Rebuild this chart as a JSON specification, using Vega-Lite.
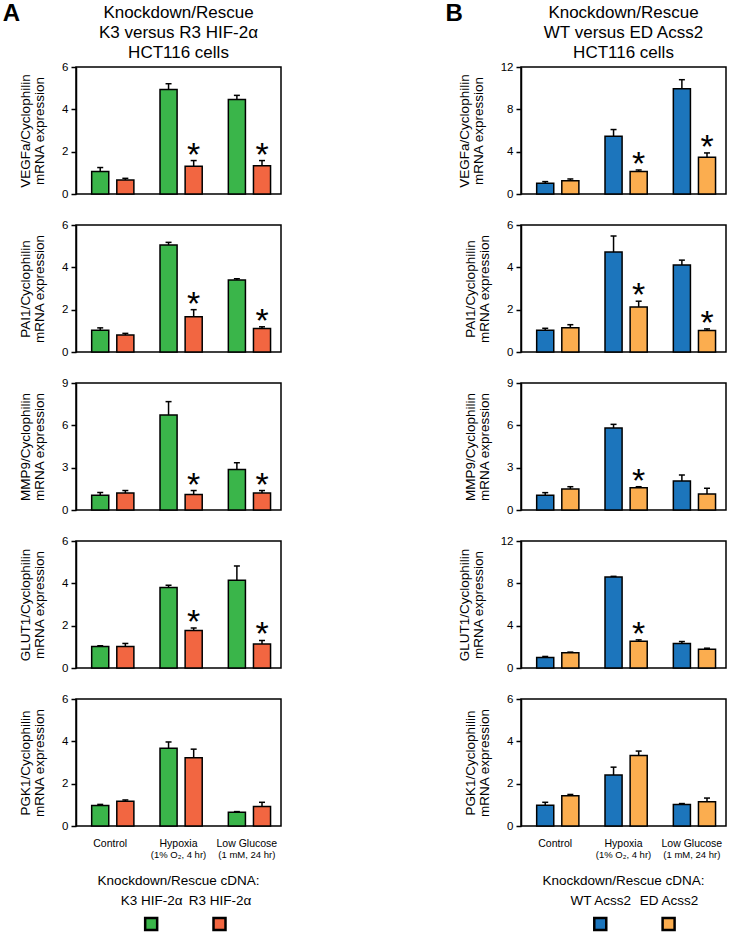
{
"$schema":"https://vega.github.io/schema/vega-lite/v6.json",
"padding":{"left":2,"top":2,"right":0,"bottom":0},
"data":{"values":[
{"col":"A","gene":"VEGFa","cond":"Control","cdna":"K3 HIF-2α","v":1.06,"e":1.25,"sig":false},
{"col":"A","gene":"VEGFa","cond":"Control","cdna":"R3 HIF-2α","v":0.66,"e":0.74,"sig":false},
{"col":"A","gene":"VEGFa","cond":"Hypoxia","cdna":"K3 HIF-2α","v":4.94,"e":5.21,"sig":false},
{"col":"A","gene":"VEGFa","cond":"Hypoxia","cdna":"R3 HIF-2α","v":1.31,"e":1.58,"sig":true},
{"col":"A","gene":"VEGFa","cond":"Low Glucose","cdna":"K3 HIF-2α","v":4.47,"e":4.66,"sig":false},
{"col":"A","gene":"VEGFa","cond":"Low Glucose","cdna":"R3 HIF-2α","v":1.34,"e":1.58,"sig":true},
{"col":"A","gene":"PAI1","cond":"Control","cdna":"K3 HIF-2α","v":1.03,"e":1.14,"sig":false},
{"col":"A","gene":"PAI1","cond":"Control","cdna":"R3 HIF-2α","v":0.80,"e":0.88,"sig":false},
{"col":"A","gene":"PAI1","cond":"Hypoxia","cdna":"K3 HIF-2α","v":5.06,"e":5.18,"sig":false},
{"col":"A","gene":"PAI1","cond":"Hypoxia","cdna":"R3 HIF-2α","v":1.66,"e":2.00,"sig":true},
{"col":"A","gene":"PAI1","cond":"Low Glucose","cdna":"K3 HIF-2α","v":3.40,"e":3.46,"sig":false},
{"col":"A","gene":"PAI1","cond":"Low Glucose","cdna":"R3 HIF-2α","v":1.11,"e":1.19,"sig":true},
{"col":"A","gene":"MMP9","cond":"Control","cdna":"K3 HIF-2α","v":1.05,"e":1.24,"sig":false},
{"col":"A","gene":"MMP9","cond":"Control","cdna":"R3 HIF-2α","v":1.20,"e":1.38,"sig":false},
{"col":"A","gene":"MMP9","cond":"Hypoxia","cdna":"K3 HIF-2α","v":6.74,"e":7.68,"sig":false},
{"col":"A","gene":"MMP9","cond":"Hypoxia","cdna":"R3 HIF-2α","v":1.10,"e":1.38,"sig":true},
{"col":"A","gene":"MMP9","cond":"Low Glucose","cdna":"K3 HIF-2α","v":2.87,"e":3.35,"sig":false},
{"col":"A","gene":"MMP9","cond":"Low Glucose","cdna":"R3 HIF-2α","v":1.20,"e":1.38,"sig":true},
{"col":"A","gene":"GLUT1","cond":"Control","cdna":"K3 HIF-2α","v":1.02,"e":1.05,"sig":false},
{"col":"A","gene":"GLUT1","cond":"Control","cdna":"R3 HIF-2α","v":1.02,"e":1.16,"sig":false},
{"col":"A","gene":"GLUT1","cond":"Hypoxia","cdna":"K3 HIF-2α","v":3.80,"e":3.91,"sig":false},
{"col":"A","gene":"GLUT1","cond":"Hypoxia","cdna":"R3 HIF-2α","v":1.77,"e":1.89,"sig":true},
{"col":"A","gene":"GLUT1","cond":"Low Glucose","cdna":"K3 HIF-2α","v":4.14,"e":4.82,"sig":false},
{"col":"A","gene":"GLUT1","cond":"Low Glucose","cdna":"R3 HIF-2α","v":1.13,"e":1.30,"sig":true},
{"col":"A","gene":"PGK1","cond":"Control","cdna":"K3 HIF-2α","v":0.97,"e":1.02,"sig":false},
{"col":"A","gene":"PGK1","cond":"Control","cdna":"R3 HIF-2α","v":1.17,"e":1.23,"sig":false},
{"col":"A","gene":"PGK1","cond":"Hypoxia","cdna":"K3 HIF-2α","v":3.67,"e":3.97,"sig":false},
{"col":"A","gene":"PGK1","cond":"Hypoxia","cdna":"R3 HIF-2α","v":3.22,"e":3.63,"sig":false},
{"col":"A","gene":"PGK1","cond":"Low Glucose","cdna":"K3 HIF-2α","v":0.65,"e":0.68,"sig":false},
{"col":"A","gene":"PGK1","cond":"Low Glucose","cdna":"R3 HIF-2α","v":0.92,"e":1.12,"sig":false},
{"col":"B","gene":"VEGFa","cond":"Control","cdna":"WT Acss2","v":1.01,"e":1.17,"sig":false},
{"col":"B","gene":"VEGFa","cond":"Control","cdna":"ED Acss2","v":1.26,"e":1.42,"sig":false},
{"col":"B","gene":"VEGFa","cond":"Hypoxia","cdna":"WT Acss2","v":5.46,"e":6.09,"sig":false},
{"col":"B","gene":"VEGFa","cond":"Hypoxia","cdna":"ED Acss2","v":2.12,"e":2.27,"sig":true},
{"col":"B","gene":"VEGFa","cond":"Low Glucose","cdna":"WT Acss2","v":9.95,"e":10.8,"sig":false},
{"col":"B","gene":"VEGFa","cond":"Low Glucose","cdna":"ED Acss2","v":3.47,"e":3.88,"sig":true},
{"col":"B","gene":"PAI1","cond":"Control","cdna":"WT Acss2","v":1.03,"e":1.12,"sig":false},
{"col":"B","gene":"PAI1","cond":"Control","cdna":"ED Acss2","v":1.15,"e":1.29,"sig":false},
{"col":"B","gene":"PAI1","cond":"Hypoxia","cdna":"WT Acss2","v":4.72,"e":5.48,"sig":false},
{"col":"B","gene":"PAI1","cond":"Hypoxia","cdna":"ED Acss2","v":2.13,"e":2.40,"sig":true},
{"col":"B","gene":"PAI1","cond":"Low Glucose","cdna":"WT Acss2","v":4.11,"e":4.34,"sig":false},
{"col":"B","gene":"PAI1","cond":"Low Glucose","cdna":"ED Acss2","v":1.01,"e":1.09,"sig":true},
{"col":"B","gene":"MMP9","cond":"Control","cdna":"WT Acss2","v":1.04,"e":1.23,"sig":false},
{"col":"B","gene":"MMP9","cond":"Control","cdna":"ED Acss2","v":1.49,"e":1.65,"sig":false},
{"col":"B","gene":"MMP9","cond":"Hypoxia","cdna":"WT Acss2","v":5.81,"e":6.07,"sig":false},
{"col":"B","gene":"MMP9","cond":"Hypoxia","cdna":"ED Acss2","v":1.58,"e":1.65,"sig":true},
{"col":"B","gene":"MMP9","cond":"Low Glucose","cdna":"WT Acss2","v":2.06,"e":2.48,"sig":false},
{"col":"B","gene":"MMP9","cond":"Low Glucose","cdna":"ED Acss2","v":1.13,"e":1.54,"sig":false},
{"col":"B","gene":"GLUT1","cond":"Control","cdna":"WT Acss2","v":1.00,"e":1.09,"sig":false},
{"col":"B","gene":"GLUT1","cond":"Control","cdna":"ED Acss2","v":1.44,"e":1.50,"sig":false},
{"col":"B","gene":"GLUT1","cond":"Hypoxia","cdna":"WT Acss2","v":8.60,"e":8.66,"sig":false},
{"col":"B","gene":"GLUT1","cond":"Hypoxia","cdna":"ED Acss2","v":2.53,"e":2.66,"sig":true},
{"col":"B","gene":"GLUT1","cond":"Low Glucose","cdna":"WT Acss2","v":2.31,"e":2.50,"sig":false},
{"col":"B","gene":"GLUT1","cond":"Low Glucose","cdna":"ED Acss2","v":1.78,"e":1.87,"sig":false},
{"col":"B","gene":"PGK1","cond":"Control","cdna":"WT Acss2","v":0.98,"e":1.12,"sig":false},
{"col":"B","gene":"PGK1","cond":"Control","cdna":"ED Acss2","v":1.43,"e":1.49,"sig":false},
{"col":"B","gene":"PGK1","cond":"Hypoxia","cdna":"WT Acss2","v":2.41,"e":2.78,"sig":false},
{"col":"B","gene":"PGK1","cond":"Hypoxia","cdna":"ED Acss2","v":3.33,"e":3.54,"sig":false},
{"col":"B","gene":"PGK1","cond":"Low Glucose","cdna":"WT Acss2","v":1.02,"e":1.06,"sig":false},
{"col":"B","gene":"PGK1","cond":"Low Glucose","cdna":"ED Acss2","v":1.15,"e":1.32,"sig":false}
]},
"spacing":163,
"resolve":{"scale":{"xOffset":"independent"}},
"hconcat":[
{
"title":{"text":"A","anchor":"start","frame":"bounds","fontSize":24,"fontWeight":"bold","offset":-23,"dx":-15},
"spacing":13,
"resolve":{"scale":{"xOffset":"independent"}},
"vconcat":[
{"spacing":31,"bounds":"flush","resolve":{"scale":{"xOffset":"independent"}},
"vconcat":[
{"width":205,"height":127,
"title":{"text":["Knockdown/Rescue","K3 versus R3 HIF-2α","HCT116 cells"],"fontSize":17,"lineHeight":20,"anchor":"middle","frame":"group","offset":-1},
"transform":[{"filter":"datum.col === 'A' && datum.gene === 'VEGFa'"}],
"encoding":{
"x":{"field":"cond","type":"nominal","sort":["Control","Hypoxia","Low Glucose"],"scale":{"paddingInner":0,"paddingOuter":0},"axis":null},
"xOffset":{"field":"cdna","type":"nominal","sort":["K3 HIF-2α","R3 HIF-2α"],"scale":{"paddingInner":0.32,"paddingOuter":0.52,"align":0.6}},
"y":{"field":"v","type":"quantitative","scale":{"domain":[0,6],"nice":false},"axis":{"values":[0,2,4,6],"title":["VEGFa/Cyclophilin","mRNA expression"]}}},
"layer":[
{"mark":{"type":"bar","stroke":"black","strokeWidth":1.5},"encoding":{"color":{"field":"cdna","type":"nominal","scale":{"domain":["K3 HIF-2α","R3 HIF-2α","WT Acss2","ED Acss2"],"range":["#3ab54a","#f26641","#1c75bc","#fbad4f"]},"legend":null}}},
{"mark":{"type":"rule","color":"black","strokeWidth":1.5},"encoding":{"y2":{"field":"e"}}},
{"mark":{"type":"tick","orient":"horizontal","color":"black","size":6,"thickness":1.5,"opacity":1},"encoding":{"y":{"field":"e","type":"quantitative","scale":{"domain":[0,6],"nice":false}}}},
{"transform":[{"filter":"datum.sig"}],"mark":{"type":"text","text":"*","fontSize":34,"baseline":"alphabetic","dy":5,"color":"black"},"encoding":{"y":{"field":"e","type":"quantitative","scale":{"domain":[0,6],"nice":false}}}}
]},
{"width":205,"height":127,
"transform":[{"filter":"datum.col === 'A' && datum.gene === 'PAI1'"}],
"encoding":{
"x":{"field":"cond","type":"nominal","sort":["Control","Hypoxia","Low Glucose"],"scale":{"paddingInner":0,"paddingOuter":0},"axis":null},
"xOffset":{"field":"cdna","type":"nominal","sort":["K3 HIF-2α","R3 HIF-2α"],"scale":{"paddingInner":0.32,"paddingOuter":0.52,"align":0.6}},
"y":{"field":"v","type":"quantitative","scale":{"domain":[0,6],"nice":false},"axis":{"values":[0,2,4,6],"title":["PAI1/Cyclophilin","mRNA expression"]}}},
"layer":[
{"mark":{"type":"bar","stroke":"black","strokeWidth":1.5},"encoding":{"color":{"field":"cdna","type":"nominal","scale":{"domain":["K3 HIF-2α","R3 HIF-2α","WT Acss2","ED Acss2"],"range":["#3ab54a","#f26641","#1c75bc","#fbad4f"]},"legend":null}}},
{"mark":{"type":"rule","color":"black","strokeWidth":1.5},"encoding":{"y2":{"field":"e"}}},
{"mark":{"type":"tick","orient":"horizontal","color":"black","size":6,"thickness":1.5,"opacity":1},"encoding":{"y":{"field":"e","type":"quantitative","scale":{"domain":[0,6],"nice":false}}}},
{"transform":[{"filter":"datum.sig"}],"mark":{"type":"text","text":"*","fontSize":34,"baseline":"alphabetic","dy":5,"color":"black"},"encoding":{"y":{"field":"e","type":"quantitative","scale":{"domain":[0,6],"nice":false}}}}
]},
{"width":205,"height":127,
"transform":[{"filter":"datum.col === 'A' && datum.gene === 'MMP9'"}],
"encoding":{
"x":{"field":"cond","type":"nominal","sort":["Control","Hypoxia","Low Glucose"],"scale":{"paddingInner":0,"paddingOuter":0},"axis":null},
"xOffset":{"field":"cdna","type":"nominal","sort":["K3 HIF-2α","R3 HIF-2α"],"scale":{"paddingInner":0.32,"paddingOuter":0.52,"align":0.6}},
"y":{"field":"v","type":"quantitative","scale":{"domain":[0,9],"nice":false},"axis":{"values":[0,3,6,9],"title":["MMP9/Cyclophilin","mRNA expression"]}}},
"layer":[
{"mark":{"type":"bar","stroke":"black","strokeWidth":1.5},"encoding":{"color":{"field":"cdna","type":"nominal","scale":{"domain":["K3 HIF-2α","R3 HIF-2α","WT Acss2","ED Acss2"],"range":["#3ab54a","#f26641","#1c75bc","#fbad4f"]},"legend":null}}},
{"mark":{"type":"rule","color":"black","strokeWidth":1.5},"encoding":{"y2":{"field":"e"}}},
{"mark":{"type":"tick","orient":"horizontal","color":"black","size":6,"thickness":1.5,"opacity":1},"encoding":{"y":{"field":"e","type":"quantitative","scale":{"domain":[0,9],"nice":false}}}},
{"transform":[{"filter":"datum.sig"}],"mark":{"type":"text","text":"*","fontSize":34,"baseline":"alphabetic","dy":5,"color":"black"},"encoding":{"y":{"field":"e","type":"quantitative","scale":{"domain":[0,9],"nice":false}}}}
]},
{"width":205,"height":127,
"transform":[{"filter":"datum.col === 'A' && datum.gene === 'GLUT1'"}],
"encoding":{
"x":{"field":"cond","type":"nominal","sort":["Control","Hypoxia","Low Glucose"],"scale":{"paddingInner":0,"paddingOuter":0},"axis":null},
"xOffset":{"field":"cdna","type":"nominal","sort":["K3 HIF-2α","R3 HIF-2α"],"scale":{"paddingInner":0.32,"paddingOuter":0.52,"align":0.6}},
"y":{"field":"v","type":"quantitative","scale":{"domain":[0,6],"nice":false},"axis":{"values":[0,2,4,6],"title":["GLUT1/Cyclophilin","mRNA expression"]}}},
"layer":[
{"mark":{"type":"bar","stroke":"black","strokeWidth":1.5},"encoding":{"color":{"field":"cdna","type":"nominal","scale":{"domain":["K3 HIF-2α","R3 HIF-2α","WT Acss2","ED Acss2"],"range":["#3ab54a","#f26641","#1c75bc","#fbad4f"]},"legend":null}}},
{"mark":{"type":"rule","color":"black","strokeWidth":1.5},"encoding":{"y2":{"field":"e"}}},
{"mark":{"type":"tick","orient":"horizontal","color":"black","size":6,"thickness":1.5,"opacity":1},"encoding":{"y":{"field":"e","type":"quantitative","scale":{"domain":[0,6],"nice":false}}}},
{"transform":[{"filter":"datum.sig"}],"mark":{"type":"text","text":"*","fontSize":34,"baseline":"alphabetic","dy":5,"color":"black"},"encoding":{"y":{"field":"e","type":"quantitative","scale":{"domain":[0,6],"nice":false}}}}
]},
{"width":205,"height":127,
"resolve":{"axis":{"x":"independent"}},
"transform":[{"filter":"datum.col === 'A' && datum.gene === 'PGK1'"}],
"encoding":{
"x":{"field":"cond","type":"nominal","sort":["Control","Hypoxia","Low Glucose"],"scale":{"paddingInner":0,"paddingOuter":0},"axis":null},
"xOffset":{"field":"cdna","type":"nominal","sort":["K3 HIF-2α","R3 HIF-2α"],"scale":{"paddingInner":0.32,"paddingOuter":0.52,"align":0.6}},
"y":{"field":"v","type":"quantitative","scale":{"domain":[0,6],"nice":false},"axis":{"values":[0,2,4,6],"title":["PGK1/Cyclophilin","mRNA expression"]}}},
"layer":[
{"mark":{"type":"bar","stroke":"black","strokeWidth":1.5},"encoding":{
"x":{"field":"cond","type":"nominal","sort":["Control","Hypoxia","Low Glucose"],"scale":{"paddingInner":0,"paddingOuter":0},"axis":{"orient":"bottom","title":null,"labelAngle":0,"domain":false,"ticks":false,"labelPadding":12.5,"labelFontSize":10.5}},
"color":{"field":"cdna","type":"nominal","scale":{"domain":["K3 HIF-2α","R3 HIF-2α","WT Acss2","ED Acss2"],"range":["#3ab54a","#f26641","#1c75bc","#fbad4f"]},"legend":null}}},
{"mark":{"type":"rule","color":"black","strokeWidth":1.5},"encoding":{"y2":{"field":"e"}}},
{"mark":{"type":"tick","orient":"horizontal","color":"black","size":6,"thickness":1.5,"opacity":1},"encoding":{
"x":{"field":"cond","type":"nominal","sort":["Control","Hypoxia","Low Glucose"],"scale":{"paddingInner":0,"paddingOuter":0},"axis":{"orient":"bottom","title":null,"labelAngle":0,"domain":false,"ticks":false,"labelPadding":23,"labelFontSize":9.5,"labelExpr":"datum.value === 'Hypoxia' ? '(1% O₂, 4 hr)' : (datum.value === 'Low Glucose' ? '(1 mM, 24 hr)' : '')"}},
"y":{"field":"e","type":"quantitative","scale":{"domain":[0,6],"nice":false}}}}
]}
]},
{"width":205,"height":16,
"view":{"stroke":null},
"data":{"values":[{"cdna":"K3 HIF-2α"},{"cdna":"R3 HIF-2α"}]},
"title":{"text":"Knockdown/Rescue cDNA:","fontSize":13.5,"anchor":"middle","frame":"group","offset":6},
"mark":{"type":"point","shape":"square","filled":true,"size":144,"stroke":"black","strokeWidth":2.5,"opacity":1},
"encoding":{
"x":{"field":"cdna","type":"nominal","sort":["K3 HIF-2α","R3 HIF-2α"],"scale":{"padding":1,"align":0.55},"axis":{"orient":"top","title":null,"domain":false,"ticks":false,"labelAngle":0,"labelPadding":9,"labelFontSize":13.5}},
"color":{"field":"cdna","type":"nominal","scale":{"domain":["K3 HIF-2α","R3 HIF-2α","WT Acss2","ED Acss2"],"range":["#3ab54a","#f26641","#1c75bc","#fbad4f"]},"legend":null}}}
]},
{
"title":{"text":"B","anchor":"start","frame":"bounds","fontSize":24,"fontWeight":"bold","offset":-23,"dx":-11},
"spacing":13,
"resolve":{"scale":{"xOffset":"independent"}},
"vconcat":[
{"spacing":31,"bounds":"flush","resolve":{"scale":{"xOffset":"independent"}},
"vconcat":[
{"width":205,"height":127,
"title":{"text":["Knockdown/Rescue","WT versus ED Acss2","HCT116 cells"],"fontSize":17,"lineHeight":20,"anchor":"middle","frame":"group","offset":-1},
"transform":[{"filter":"datum.col === 'B' && datum.gene === 'VEGFa'"}],
"encoding":{
"x":{"field":"cond","type":"nominal","sort":["Control","Hypoxia","Low Glucose"],"scale":{"paddingInner":0,"paddingOuter":0},"axis":null},
"xOffset":{"field":"cdna","type":"nominal","sort":["WT Acss2","ED Acss2"],"scale":{"paddingInner":0.32,"paddingOuter":0.52,"align":0.6}},
"y":{"field":"v","type":"quantitative","scale":{"domain":[0,12],"nice":false},"axis":{"values":[0,4,8,12],"title":["VEGFa/Cyclophilin","mRNA expression"]}}},
"layer":[
{"mark":{"type":"bar","stroke":"black","strokeWidth":1.5},"encoding":{"color":{"field":"cdna","type":"nominal","scale":{"domain":["K3 HIF-2α","R3 HIF-2α","WT Acss2","ED Acss2"],"range":["#3ab54a","#f26641","#1c75bc","#fbad4f"]},"legend":null}}},
{"mark":{"type":"rule","color":"black","strokeWidth":1.5},"encoding":{"y2":{"field":"e"}}},
{"mark":{"type":"tick","orient":"horizontal","color":"black","size":6,"thickness":1.5,"opacity":1},"encoding":{"y":{"field":"e","type":"quantitative","scale":{"domain":[0,12],"nice":false}}}},
{"transform":[{"filter":"datum.sig"}],"mark":{"type":"text","text":"*","fontSize":34,"baseline":"alphabetic","dy":5,"color":"black"},"encoding":{"y":{"field":"e","type":"quantitative","scale":{"domain":[0,12],"nice":false}}}}
]},
{"width":205,"height":127,
"transform":[{"filter":"datum.col === 'B' && datum.gene === 'PAI1'"}],
"encoding":{
"x":{"field":"cond","type":"nominal","sort":["Control","Hypoxia","Low Glucose"],"scale":{"paddingInner":0,"paddingOuter":0},"axis":null},
"xOffset":{"field":"cdna","type":"nominal","sort":["WT Acss2","ED Acss2"],"scale":{"paddingInner":0.32,"paddingOuter":0.52,"align":0.6}},
"y":{"field":"v","type":"quantitative","scale":{"domain":[0,6],"nice":false},"axis":{"values":[0,2,4,6],"title":["PAI1/Cyclophilin","mRNA expression"]}}},
"layer":[
{"mark":{"type":"bar","stroke":"black","strokeWidth":1.5},"encoding":{"color":{"field":"cdna","type":"nominal","scale":{"domain":["K3 HIF-2α","R3 HIF-2α","WT Acss2","ED Acss2"],"range":["#3ab54a","#f26641","#1c75bc","#fbad4f"]},"legend":null}}},
{"mark":{"type":"rule","color":"black","strokeWidth":1.5},"encoding":{"y2":{"field":"e"}}},
{"mark":{"type":"tick","orient":"horizontal","color":"black","size":6,"thickness":1.5,"opacity":1},"encoding":{"y":{"field":"e","type":"quantitative","scale":{"domain":[0,6],"nice":false}}}},
{"transform":[{"filter":"datum.sig"}],"mark":{"type":"text","text":"*","fontSize":34,"baseline":"alphabetic","dy":5,"color":"black"},"encoding":{"y":{"field":"e","type":"quantitative","scale":{"domain":[0,6],"nice":false}}}}
]},
{"width":205,"height":127,
"transform":[{"filter":"datum.col === 'B' && datum.gene === 'MMP9'"}],
"encoding":{
"x":{"field":"cond","type":"nominal","sort":["Control","Hypoxia","Low Glucose"],"scale":{"paddingInner":0,"paddingOuter":0},"axis":null},
"xOffset":{"field":"cdna","type":"nominal","sort":["WT Acss2","ED Acss2"],"scale":{"paddingInner":0.32,"paddingOuter":0.52,"align":0.6}},
"y":{"field":"v","type":"quantitative","scale":{"domain":[0,9],"nice":false},"axis":{"values":[0,3,6,9],"title":["MMP9/Cyclophilin","mRNA expression"]}}},
"layer":[
{"mark":{"type":"bar","stroke":"black","strokeWidth":1.5},"encoding":{"color":{"field":"cdna","type":"nominal","scale":{"domain":["K3 HIF-2α","R3 HIF-2α","WT Acss2","ED Acss2"],"range":["#3ab54a","#f26641","#1c75bc","#fbad4f"]},"legend":null}}},
{"mark":{"type":"rule","color":"black","strokeWidth":1.5},"encoding":{"y2":{"field":"e"}}},
{"mark":{"type":"tick","orient":"horizontal","color":"black","size":6,"thickness":1.5,"opacity":1},"encoding":{"y":{"field":"e","type":"quantitative","scale":{"domain":[0,9],"nice":false}}}},
{"transform":[{"filter":"datum.sig"}],"mark":{"type":"text","text":"*","fontSize":34,"baseline":"alphabetic","dy":5,"color":"black"},"encoding":{"y":{"field":"e","type":"quantitative","scale":{"domain":[0,9],"nice":false}}}}
]},
{"width":205,"height":127,
"transform":[{"filter":"datum.col === 'B' && datum.gene === 'GLUT1'"}],
"encoding":{
"x":{"field":"cond","type":"nominal","sort":["Control","Hypoxia","Low Glucose"],"scale":{"paddingInner":0,"paddingOuter":0},"axis":null},
"xOffset":{"field":"cdna","type":"nominal","sort":["WT Acss2","ED Acss2"],"scale":{"paddingInner":0.32,"paddingOuter":0.52,"align":0.6}},
"y":{"field":"v","type":"quantitative","scale":{"domain":[0,12],"nice":false},"axis":{"values":[0,4,8,12],"title":["GLUT1/Cyclophilin","mRNA expression"]}}},
"layer":[
{"mark":{"type":"bar","stroke":"black","strokeWidth":1.5},"encoding":{"color":{"field":"cdna","type":"nominal","scale":{"domain":["K3 HIF-2α","R3 HIF-2α","WT Acss2","ED Acss2"],"range":["#3ab54a","#f26641","#1c75bc","#fbad4f"]},"legend":null}}},
{"mark":{"type":"rule","color":"black","strokeWidth":1.5},"encoding":{"y2":{"field":"e"}}},
{"mark":{"type":"tick","orient":"horizontal","color":"black","size":6,"thickness":1.5,"opacity":1},"encoding":{"y":{"field":"e","type":"quantitative","scale":{"domain":[0,12],"nice":false}}}},
{"transform":[{"filter":"datum.sig"}],"mark":{"type":"text","text":"*","fontSize":34,"baseline":"alphabetic","dy":5,"color":"black"},"encoding":{"y":{"field":"e","type":"quantitative","scale":{"domain":[0,12],"nice":false}}}}
]},
{"width":205,"height":127,
"resolve":{"axis":{"x":"independent"}},
"transform":[{"filter":"datum.col === 'B' && datum.gene === 'PGK1'"}],
"encoding":{
"x":{"field":"cond","type":"nominal","sort":["Control","Hypoxia","Low Glucose"],"scale":{"paddingInner":0,"paddingOuter":0},"axis":null},
"xOffset":{"field":"cdna","type":"nominal","sort":["WT Acss2","ED Acss2"],"scale":{"paddingInner":0.32,"paddingOuter":0.52,"align":0.6}},
"y":{"field":"v","type":"quantitative","scale":{"domain":[0,6],"nice":false},"axis":{"values":[0,2,4,6],"title":["PGK1/Cyclophilin","mRNA expression"]}}},
"layer":[
{"mark":{"type":"bar","stroke":"black","strokeWidth":1.5},"encoding":{
"x":{"field":"cond","type":"nominal","sort":["Control","Hypoxia","Low Glucose"],"scale":{"paddingInner":0,"paddingOuter":0},"axis":{"orient":"bottom","title":null,"labelAngle":0,"domain":false,"ticks":false,"labelPadding":12.5,"labelFontSize":10.5}},
"color":{"field":"cdna","type":"nominal","scale":{"domain":["K3 HIF-2α","R3 HIF-2α","WT Acss2","ED Acss2"],"range":["#3ab54a","#f26641","#1c75bc","#fbad4f"]},"legend":null}}},
{"mark":{"type":"rule","color":"black","strokeWidth":1.5},"encoding":{"y2":{"field":"e"}}},
{"mark":{"type":"tick","orient":"horizontal","color":"black","size":6,"thickness":1.5,"opacity":1},"encoding":{
"x":{"field":"cond","type":"nominal","sort":["Control","Hypoxia","Low Glucose"],"scale":{"paddingInner":0,"paddingOuter":0},"axis":{"orient":"bottom","title":null,"labelAngle":0,"domain":false,"ticks":false,"labelPadding":23,"labelFontSize":9.5,"labelExpr":"datum.value === 'Hypoxia' ? '(1% O₂, 4 hr)' : (datum.value === 'Low Glucose' ? '(1 mM, 24 hr)' : '')"}},
"y":{"field":"e","type":"quantitative","scale":{"domain":[0,6],"nice":false}}}}
]}
]},
{"width":205,"height":16,
"view":{"stroke":null},
"data":{"values":[{"cdna":"WT Acss2"},{"cdna":"ED Acss2"}]},
"title":{"text":"Knockdown/Rescue cDNA:","fontSize":13.5,"anchor":"middle","frame":"group","offset":6},
"mark":{"type":"point","shape":"square","filled":true,"size":144,"stroke":"black","strokeWidth":2.5,"opacity":1},
"encoding":{
"x":{"field":"cdna","type":"nominal","sort":["WT Acss2","ED Acss2"],"scale":{"padding":1,"align":0.58},"axis":{"orient":"top","title":null,"domain":false,"ticks":false,"labelAngle":0,"labelPadding":9,"labelFontSize":13.5}},
"color":{"field":"cdna","type":"nominal","scale":{"domain":["K3 HIF-2α","R3 HIF-2α","WT Acss2","ED Acss2"],"range":["#3ab54a","#f26641","#1c75bc","#fbad4f"]},"legend":null}}}
]}
],
"config":{
"font":"Liberation Sans",
"view":{"stroke":"black","strokeWidth":1.5},
"axis":{"labelFontSize":11.5,"labelColor":"black","titleColor":"black","titleFontSize":13.5,"titleFontWeight":"normal","titleLineHeight":14,"titlePadding":15,"domainColor":"black","tickColor":"black","domainWidth":1.5,"tickWidth":1.5,"tickSize":5,"grid":false,"labelPadding":3},
"title":{"fontWeight":"normal","color":"black","font":"Liberation Sans"}
}
}
